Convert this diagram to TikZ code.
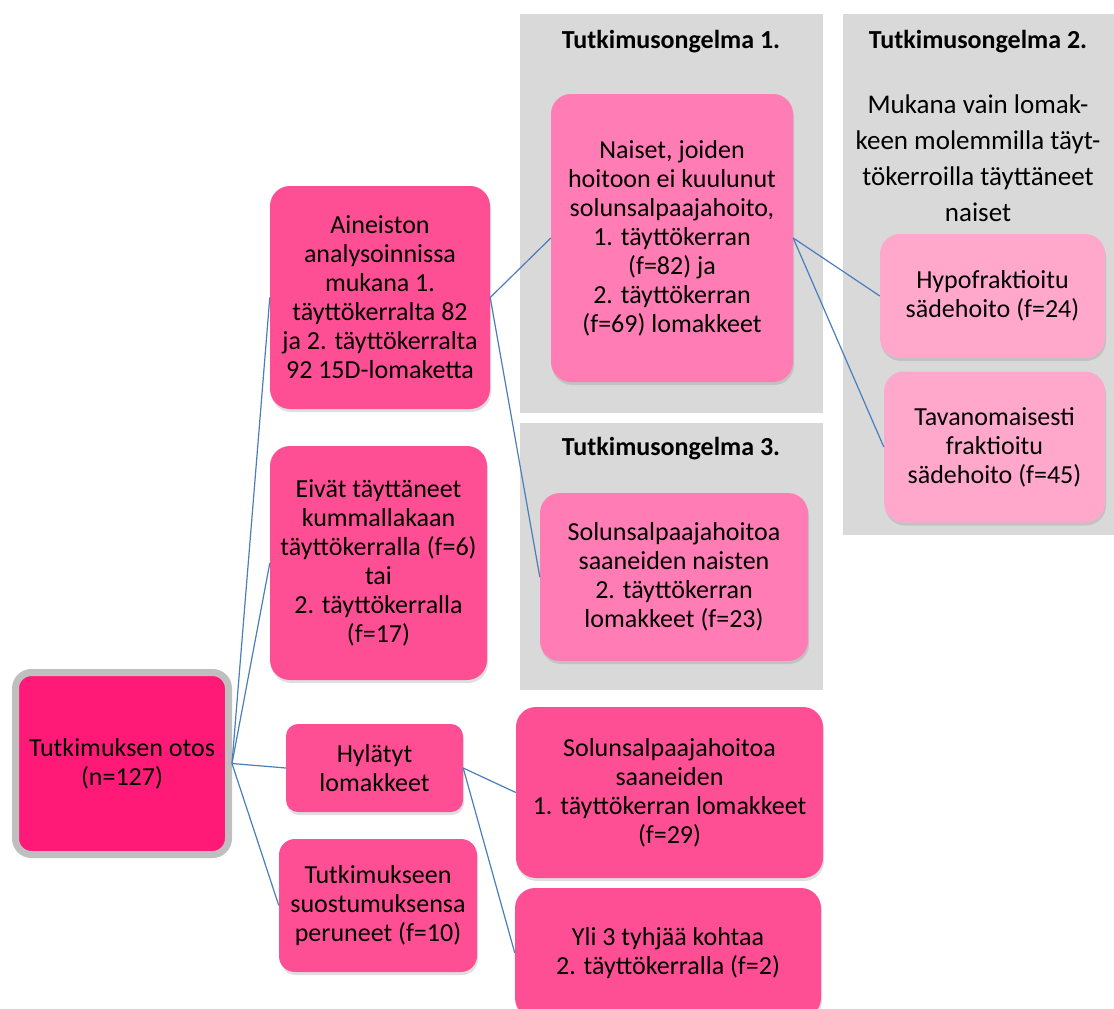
\documentclass[tikz,border=0pt]{standalone}
\usepackage{fontspec}
\setmainfont{Carlito}
\usetikzlibrary{shadows}
\definecolor{rootpink}{RGB}{255,26,120}
\definecolor{hotpink}{RGB}{255,79,148}
\definecolor{midpink}{RGB}{255,125,180}
\definecolor{lightpink}{RGB}{255,168,204}
\definecolor{panelgray}{RGB}{217,217,217}
\definecolor{linkblue}{RGB}{74,126,187}
\tikzstyle{box} = [rectangle, rounded corners=20pt, align=center, inner sep=4pt, font=\fontsize{26}{29}\selectfont, drop shadow={opacity=0.25, shadow xshift=1pt, shadow yshift=-3pt}]
\tikzstyle{rootbox} = [box, rounded corners=16pt, fill=rootpink, draw=black!25, line width=7pt]
\tikzstyle{hotbox} = [box, fill=hotpink]
\tikzstyle{midbox} = [box, fill=midpink]
\tikzstyle{lightbox} = [box, fill=lightpink]
\tikzstyle{panel} = [rectangle, fill=panelgray, inner sep=0pt]
\tikzstyle{paneltitle} = [font=\bfseries\fontsize{26}{30}\selectfont]
\tikzstyle{link} = [draw=linkblue, line width=1.2pt]

\begin{document}
\begin{tikzpicture}[x=1pt, y=-1pt]
            \useasboundingbox (0,0) rectangle (1114,1009);
            \node [panel, minimum width=303pt, minimum height=399pt] at (671.5,213.5) (ongelma1) {};
            \node [panel, minimum width=271pt, minimum height=521pt] at (978.5,274.5) (ongelma2) {};
            \node [panel, minimum width=303pt, minimum height=267pt] at (671.5,556.5) (ongelma3) {};
            \node [paneltitle] at (671,42) (otsikko1) {Tutkimusongelma 1.};
            \node [paneltitle] at (978,42) (otsikko2) {Tutkimusongelma 2.};
            \node [paneltitle] at (671,449) (otsikko3) {Tutkimusongelma 3.};
            \node [align=center, font=\fontsize{27}{36}\selectfont] at (978,158) (rajaus) {Mukana vain lomak-\\keen molemmilla täyt-\\tökerroilla täyttäneet\\naiset};
            \node [rootbox, minimum width=213pt, minimum height=182pt] at (122,763.5) (otos) {Tutkimuksen otos\\(n=127)};
            \node [hotbox, minimum width=220pt, minimum height=223pt] at (380,297.5) (aineisto) {Aineiston\\analysoinnissa\\mukana 1.\\täyttökerralta 82\\ja 2. täyttökerralta\\92 15D-lomaketta};
            \node [hotbox, minimum width=217pt, minimum height=234pt] at (378.5,563) (eivat) {Eivät täyttäneet\\kummallakaan\\täyttökerralla (f=6)\\tai\\2. täyttökerralla\\(f=17)};
            \node [hotbox, rounded corners=12pt, minimum width=177pt, minimum height=88pt] at (374.5,768) (hylatyt) {Hylätyt\\lomakkeet};
            \node [hotbox, rounded corners=16pt, minimum width=198pt, minimum height=133pt] at (378,905.5) (peruneet) {Tutkimukseen\\suostumuksensa\\peruneet (f=10)};
            \node [midbox, minimum width=242pt, minimum height=288pt] at (672,238) (naiset) {Naiset, joiden\\hoitoon ei kuulunut\\solunsalpaajahoito,\\1. täyttökerran\\(f=82) ja\\2. täyttökerran\\(f=69) lomakkeet};
            \node [midbox, minimum width=268pt, minimum height=168pt] at (674,577) (solu2) {Solunsalpaajahoitoa\\saaneiden naisten\\2. täyttökerran\\lomakkeet (f=23)};
            \node [lightbox, minimum width=225pt, minimum height=124pt] at (992.5,296) (hypo) {Hypofraktioitu\\sädehoito (f=24)};
            \node [lightbox, minimum width=221pt, minimum height=151pt] at (994.5,447) (tavan) {Tavanomaisesti\\fraktioitu\\sädehoito (f=45)};
            \node [hotbox, minimum width=307pt, minimum height=171pt] at (669.5,792.5) (solu1) {Solunsalpaajahoitoa\\saaneiden\\1. täyttökerran lomakkeet\\(f=29)};
            \node [hotbox, minimum width=306pt, minimum height=130pt] at (668,953) (tyhjat) {Yli 3 tyhjää kohtaa\\2. täyttökerralla (f=2)};
            \draw [link] (otos.east) -- (aineisto.west);
            \draw [link] (otos.east) -- (eivat.west);
            \draw [link] (otos.east) -- (hylatyt.west);
            \draw [link] (otos.east) -- (peruneet.west);
            \draw [link] (aineisto.east) -- (naiset.west);
            \draw [link] (aineisto.east) -- (solu2.west);
            \draw [link] (naiset.east) -- (hypo.west);
            \draw [link] (naiset.east) -- (tavan.west);
            \draw [link] (hylatyt.east) -- (solu1.west);
            \draw [link] (hylatyt.east) -- (tyhjat.west);
\end{tikzpicture}
\end{document}
